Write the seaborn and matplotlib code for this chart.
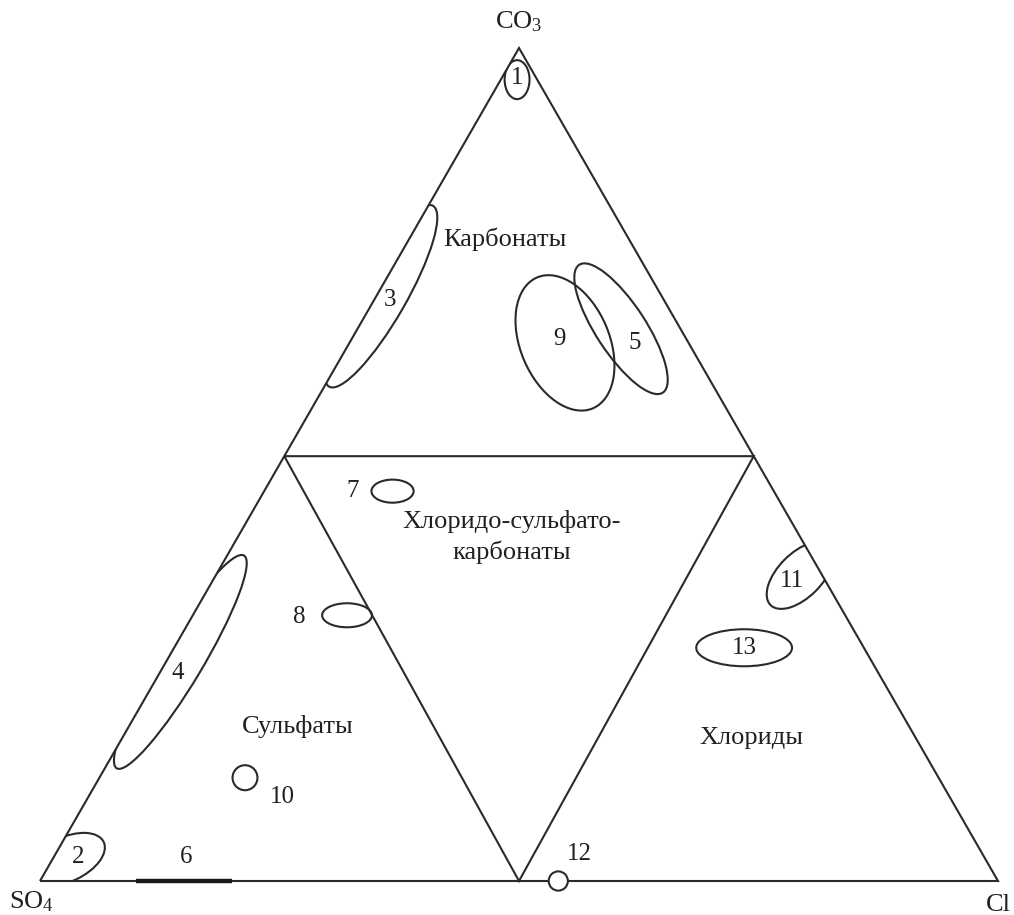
import numpy as np
import pandas as pd
import matplotlib
matplotlib.use("Agg")
import matplotlib.pyplot as plt
import seaborn as sns
from matplotlib.patches import Ellipse, Polygon

# Composition fields, % of anions: CO3 and Cl given, SO4 is the remainder
field_ids = ["1", "2", "3", "4", "5", "7", "8", "9", "10", "11", "12", "13"]
field_co3 = [96.2, 2.6, 70.2, 26.3, 66.3, 46.8, 31.9, 64.6, 12.4, 36.7, 0.0, 28.0]
field_cl = [1.7, 1.5, 0.5, 1.5, 27.5, 13.4, 16.1, 22.5, 15.2, 61.0, 54.1, 59.5]
# spread of each field along its main axis and across it, %, and tilt, degrees
field_len = [2.6, 8.5, 21.7, 25.8, 15.9, 4.4, 5.2, 14.8, 2.6, 8.75, 2.0, 10.0]
field_wid = [4.05, 4.6, 5.2, 4.6, 5.2, 2.4, 2.5, 9.27, 2.6, 4.6, 2.0, 3.85]
field_tilt = [0, 25, 60, 59, -56.7, 0, 0, -66.7, 0, 45, 0, 0]

# Field 6 lies on the SO4-Cl side (no CO3): Cl range, %
field6_cl = [10.0, 20.0]

# Class boundaries: CO3 level of the upper line, Cl share at the bottom vertex
bound_co3 = 51.0
bound_cl = 50.0

vertex_names = ["CO$_3$", "SO$_4$", "Cl"]
class_names = ["Карбонаты", "Хлоридо-сульфато-\nкарбонаты", "Сульфаты", "Хлориды"]
class_co3 = [77.0, 41.3, 18.5, 17.2]
class_cl = [10.0, 28.6, 17.7, 65.7]

H = np.sqrt(3) / 2 * 100


def to_xy(co3, cl):
    co3 = np.asarray(co3, dtype=float) / 100
    cl = np.asarray(cl, dtype=float) / 100
    return 100 * (cl + co3 / 2), 100 * co3 * np.sqrt(3) / 2


sns.set_theme(style="white")
plt.rcParams["font.family"] = ["Liberation Serif", "DejaVu Serif"]
plt.rcParams["mathtext.fontset"] = "custom"
plt.rcParams["mathtext.rm"] = "Liberation Serif"
plt.rcParams["mathtext.it"] = "Liberation Serif"

INK = "#2a2a2a"
TXT = "#231f20"

fig = plt.figure(figsize=(10.14, 9.15), dpi=100)
fig.patch.set_facecolor("white")
ax = fig.add_axes([40 / 1014, 34 / 915, 958 / 1014, 833 / 915])
ax.set_xlim(0, 100)
ax.set_ylim(0, H)
ax.axis("off")

# outer triangle (SO4 - Cl - CO3) and class boundaries
outer_co3 = [0, 0, 100, 0]
outer_cl = [0, 100, 0, 0]
inner_co3 = [bound_co3, bound_co3, 0, bound_co3]
inner_cl = [0, 100 - bound_co3, bound_cl, 0]
ox, oy = to_xy(outer_co3, outer_cl)
ix, iy = to_xy(inner_co3, inner_cl)
frame = pd.DataFrame({
    "x": np.concatenate([ox, ix]),
    "y": np.concatenate([oy, iy]),
    "part": ["outer"] * 4 + ["inner"] * 4,
})
sns.lineplot(data=frame, x="x", y="y", units="part", estimator=None, sort=False,
             color=INK, linewidth=1.5, ax=ax, legend=False)
for ln in ax.lines:
    ln.set_solid_joinstyle("miter")
    ln.set_solid_capstyle("butt")
    ln.set_clip_on(False)

tri = Polygon(np.column_stack([ox[:3], oy[:3]]), closed=True,
              transform=ax.transData, facecolor="none", edgecolor="none")

# label offsets from the field centre, points
label_dx = [0, 8, 6.5, -2, 10, -29, -34.5, -4, 26.6, -5.8, 15.5, 0]
label_dy = [1, 1.5, -3, -8, -10, 0, -1.5, 3, -13.7, -4.3, 19.4, 0]

cx, cy = to_xy(field_co3, field_cl)
for i, fid in enumerate(field_ids):
    on_edge = fid == "12"
    e = Ellipse((cx[i], cy[i]), width=field_len[i], height=field_wid[i],
                angle=field_tilt[i], facecolor="white" if on_edge else "none",
                edgecolor=INK, linewidth=1.5, zorder=4 if on_edge else 3)
    ax.add_patch(e)
    if on_edge:
        e.set_clip_on(False)
    else:
        e.set_clip_path(tri)
    ax.annotate(fid, (cx[i], cy[i]), xytext=(label_dx[i], label_dy[i]),
                textcoords="offset points", ha="center", va="center",
                fontsize=18, color=TXT, zorder=5)

# field 6: segment on the SO4-Cl side
sx, sy = to_xy([0, 0], field6_cl)
seg = pd.DataFrame({"x": sx, "y": sy})
sns.lineplot(data=seg, x="x", y="y", sort=False, estimator=None,
             color="#1a1a1a", linewidth=3.2, ax=ax, legend=False)
ax.lines[-1].set_solid_capstyle("butt")
ax.lines[-1].set_zorder(4)
ax.lines[-1].set_clip_on(False)
ax.annotate("6", (sx.mean(), 0), xytext=(1.4, 17), textcoords="offset points",
            ha="center", va="center", fontsize=18, color=TXT)

# vertex names
vx, vy = to_xy([100, 0, 0], [0, 0, 100])
vertex_off = [(0, 19), (-6.5, -15), (0, -17)]
for name, x, y, off in zip(vertex_names, vx, vy, vertex_off):
    ax.annotate(name, (x, y), xytext=off, textcoords="offset points",
                ha="center", va="center", fontsize=19, color=TXT,
                annotation_clip=False)

# class names
tx, ty = to_xy(class_co3, class_cl)
for name, x, y in zip(class_names, tx, ty):
    ax.text(x, y, name, ha="center", va="center", fontsize=19, color=TXT,
            linespacing=1.45)

fig.savefig("out.png", dpi=100, facecolor="white")
